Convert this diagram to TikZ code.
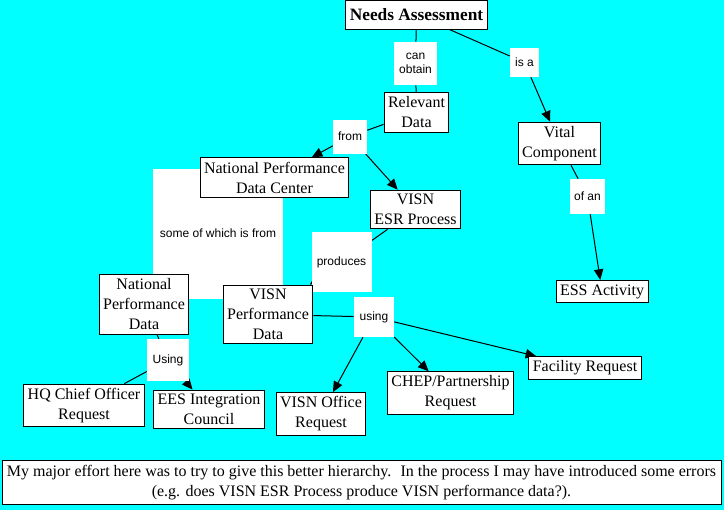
\documentclass[tikz,border=0pt]{standalone}
\usepackage{fontspec}
\setmainfont{Liberation Serif}
\setsansfont{Liberation Sans}
\usetikzlibrary{arrows.meta}
\pgfdeclarelayer{bg}
\pgfdeclarelayer{links}
\pgfsetlayers{bg,links,main}
\definecolor{mapcyan}{RGB}{0,255,255}

\begin{document}
\begin{tikzpicture}[x=0.75pt,y=-0.75pt,
    concept/.style={draw, line width=0.75pt, fill=white, align=center, font=\fontsize{12}{15}\selectfont, inner xsep=3pt, inner ysep=3pt},
    linkbox/.style={fill=white, align=center, font=\sffamily\fontsize{9}{10.5}\selectfont, inner sep=1pt, minimum size=#1*0.75pt},
    link/.style={line width=0.75pt},
    arrowlink/.style={line width=0.75pt, -{Triangle[length=8pt,width=7pt]}}]
    \useasboundingbox (0,0) rectangle (724,510);
    \begin{pgfonlayer}{bg}
    \fill[mapcyan] (0,0) rectangle (724,510);
    \end{pgfonlayer}
    % linking phrases
    \node[linkbox=43] (canobtain) at (415.5,63.5) {can\\obtain};
    \node[linkbox=29] (isa) at (524.5,62.5) {is a};
    \node[linkbox=35] (ofan) at (587.5,196.5) {of an};
    \node[linkbox=34] (from) at (350,136.5) {from};
    \node[linkbox=130] (someof) at (218,233.5) {some of which is from};
    \node[linkbox=60] (produces) at (341.5,262) {produces};
    \node[linkbox=42] (usingnpd) at (168,360) {Using};
    \node[linkbox=40] (usingvpd) at (374,317) {using};
    % concepts
    \node[concept, font=\bfseries\fontsize{13}{16}\selectfont, inner xsep=3.5pt, inner ysep=6pt] (needs) at (416.5,15) {Needs Assessment};
    \node[concept] (relevant) at (416.5,112.5) {Relevant\\Data};
    \node[concept] (vital) at (559.5,143.5) {Vital\\Component};
    \node[concept] (essact) at (602,291.5) {ESS Activity};
    \node[concept] (npdc) at (274.5,177.5) {National Performance\\Data Center};
    \node[concept] (esr) at (415.5,209.5) {VISN\\ESR Process};
    \node[concept] (npd) at (144,304.5) {National\\Performance\\Data};
    \node[concept] (vpd) at (268,314.5) {VISN\\Performance\\Data};
    \node[concept] (hq) at (84,405.5) {HQ Chief Officer\\Request};
    \node[concept] (ees) at (209,409.5) {EES Integration\\Council};
    \node[concept] (vor) at (321,414) {VISN Office\\Request};
    \node[concept] (chep) at (450.5,393) {CHEP/Partnership\\Request};
    \node[concept] (facility) at (585,368) {Facility Request};
    % note
    \node[concept, minimum width=719*0.75pt, inner ysep=3.5pt, font=\fontsize{12}{15}\selectfont] (note) at (361.5,482.5)
        {My major effort here was to try to give this better hierarchy.~ In the process I may have introduced some errors\\(e.g. does VISN ESR Process produce VISN performance data?).};
    \begin{pgfonlayer}{links}
    \draw[link] (needs) -- (canobtain);
    \draw[link] (canobtain) -- (relevant);
    \draw[link] (needs) -- (isa);
    \draw[arrowlink] (isa) -- (vital);
    \draw[link] (vital) -- (ofan);
    \draw[arrowlink] (ofan) -- (essact);
    \draw[link] (relevant) -- (from);
    \draw[arrowlink] (from) -- (npdc);
    \draw[arrowlink] (from) -- (esr);
    \draw[link] (npdc) -- (someof);
    \draw[arrowlink] (someof) -- (npd);
    \draw[link] (esr) -- (produces);
    \draw[arrowlink] (produces) -- (vpd);
    \draw[link] (npd) -- (usingnpd);
    \draw[link] (usingnpd) -- (hq);
    \draw[arrowlink] (usingnpd) -- (ees);
    \draw[link] (vpd) -- (usingvpd);
    \draw[arrowlink] (usingvpd) -- (vor);
    \draw[arrowlink] (usingvpd) -- (chep);
    \draw[arrowlink] (usingvpd) -- (facility);
    \end{pgfonlayer}
\end{tikzpicture}
\end{document}
